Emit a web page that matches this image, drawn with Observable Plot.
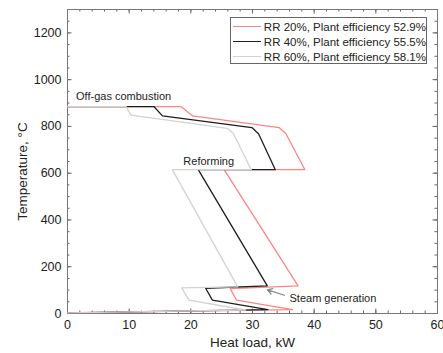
<!DOCTYPE html>
<html>
<head>
<meta charset="utf-8">
<script src="https://cdn.jsdelivr.net/npm/d3@7"></script>
<script src="https://cdn.jsdelivr.net/npm/@observablehq/plot@0.6"></script>
<style>
  body { margin: 0; background: #fff; font-family: "Liberation Sans", Arial, sans-serif; }
  #wrap { position: relative; width: 443px; height: 353px; }
  #legend { position: absolute; left: 230px; top: 17px; width: 197px; height: 47px; border: 1px solid #666; background: #fff; box-sizing: border-box; padding-top: 1px; }
  .row { display: flex; align-items: center; height: 15px; font-size: 11.5px; color: #222; white-space: nowrap; }
  .sw { width: 32px; height: 0; margin-left: 2px; margin-right: 3px; }
</style>
</head>
<body>
<div id="wrap"><div id="legend"></div></div>
<script>
// Series
const seriesNames = ["RR 20%, Plant efficiency 52.9%", "RR 40%, Plant efficiency 55.5%", "RR 60%, Plant efficiency 58.1%"];
const seriesColors = ["#ff8585", "#1e1e1e", "#d2d2d2"];

// Heat load (kW) and temperature (°C) per series
const heatRR20 = [0, 18.4, 20.3, 34.3, 35.4, 38.5, 25.4, 37.4, 26.4, 27.4, 36.5, 0];
const tempRR20 = [885, 885, 845, 795, 770, 615, 615, 118, 106, 57, 17, 3];
const heatRR40 = [0, 14.0, 15.4, 29.9, 31.0, 33.7, 21.2, 32.4, 22.4, 23.5, 32.5, 0];
const tempRR40 = [885, 885, 845, 795, 768, 615, 615, 118, 108, 57, 17, 3];
const heatRR60 = [0, 9.5, 10.3, 25.9, 26.9, 29.8, 17.0, 27.6, 18.5, 19.7, 28.9, 0];
const tempRR60 = [885, 885, 848, 792, 770, 615, 615, 114, 110, 57, 15, 3];

// Annotations
const annoText = ["Off-gas combustion", "Reforming", "Steam generation"];
const annoX = [9.1, 22.9, 36.0];
const annoY = [927, 652, 66];
const annoAnchor = ["middle", "middle", "start"];
const arrowFrom = [35.2, 78];
const arrowTo = [32.4, 101];

// Axis ticks
const xMajor = [0, 10, 20, 30, 40, 50, 60];
const xMinor = d3.range(0, 61, 2);
const yMajor = [0, 200, 400, 600, 800, 1000, 1200];
const yMinor = d3.range(0, 1301, 50);
const xDomain = [0, 60];
const yDomain = [0, 1300];

const heats = [heatRR20, heatRR40, heatRR60];
const temps = [tempRR20, tempRR40, tempRR60];
const data = [];
seriesNames.forEach((s, i) => heats[i].forEach((h, j) => data.push({series: s, heat: h, temp: temps[i][j], order: j})));
const annos = annoText.map((t, i) => ({t, x: annoX[i], y: annoY[i], a: annoAnchor[i]}));

const tickStroke = "#666";
const xt = (vals, len) => [
  Plot.ruleX(vals, {x: d => d, y1: yDomain[0], y2: yDomain[0], insetTop: -len, stroke: tickStroke}),
  Plot.ruleX(vals, {x: d => d, y1: yDomain[1], y2: yDomain[1], insetBottom: -len, stroke: tickStroke})
];
const yt = (vals, len) => [
  Plot.ruleY(vals, {y: d => d, x1: xDomain[0], x2: xDomain[0], insetRight: -len, stroke: tickStroke}),
  Plot.ruleY(vals, {y: d => d, x1: xDomain[1], x2: xDomain[1], insetLeft: -len, stroke: tickStroke})
];

const plot = Plot.plot({
  width: 443, height: 353,
  marginLeft: 67, marginRight: 6, marginTop: 9, marginBottom: 40,
  style: {fontFamily: "'Liberation Sans', Arial, sans-serif", fontSize: "12.5px", color: "#222", background: "#fff"},
  x: {domain: xDomain, label: null},
  y: {domain: yDomain, label: null},
  color: {domain: seriesNames, range: seriesColors},
  marks: [
    ...xt(xMinor, 2.5), ...xt(xMajor, 4.5),
    ...yt(yMinor, 2.5), ...yt(yMajor, 4.5),
    Plot.axisX({ticks: xMajor, tickSize: 0, tickPadding: 7, anchor: "bottom", fontSize: 12.5, label: "Heat load, kW", labelAnchor: "center", labelOffset: 33, labelArrow: "none"}),
    Plot.axisY({ticks: yMajor, tickSize: 0, tickPadding: 6, anchor: "left", fontSize: 12.5, tickFormat: d3.format("d"), label: "Temperature, °C", labelAnchor: "center", labelOffset: 50, labelArrow: "none"}),
    Plot.frame({stroke: "#777"}),
    Plot.line(data, {x: "heat", y: "temp", z: "series", stroke: "series", strokeWidth: 1.3, sort: null}),
    Plot.text(annos.filter(d => d.a === "middle"), {x: "x", y: "y", text: "t", textAnchor: "middle", fontSize: 11, fill: "#222"}),
    Plot.text(annos.filter(d => d.a === "start"), {x: "x", y: "y", text: "t", textAnchor: "start", fontSize: 11, fill: "#222"}),
    Plot.arrow([0], {x1: () => arrowFrom[0], y1: () => arrowFrom[1], x2: () => arrowTo[0], y2: () => arrowTo[1], stroke: "#888", strokeWidth: 1.2, headLength: 7})
  ]
});
plot.querySelectorAll("[aria-label='x-axis label'] text, [aria-label='y-axis label'] text").forEach(t => { t.setAttribute("font-size", "13.5"); t.style.fontSize = "13.5px"; t.setAttribute("fill", "#222"); });
const yl = plot.querySelector("[aria-label='y-axis label'] text");
if (yl) {
  const tr = yl.getAttribute("transform") || "";
  const m = tr.match(/translate\(([-\d.]+),([-\d.]+)\)/);
  if (m) yl.setAttribute("transform", tr.replace(m[0], `translate(${m[1]},${+m[2] + 10})`));
}
document.getElementById("wrap").prepend(plot);

const legend = document.getElementById("legend");
seriesNames.forEach((s, i) => {
  const row = document.createElement("div");
  row.className = "row";
  const sw = document.createElement("div");
  sw.className = "sw";
  sw.style.borderTop = `1.5px solid ${seriesColors[i]}`;
  const tx = document.createElement("span");
  tx.textContent = s;
  row.append(sw, tx);
  legend.append(row);
});
</script>
</body>
</html>
